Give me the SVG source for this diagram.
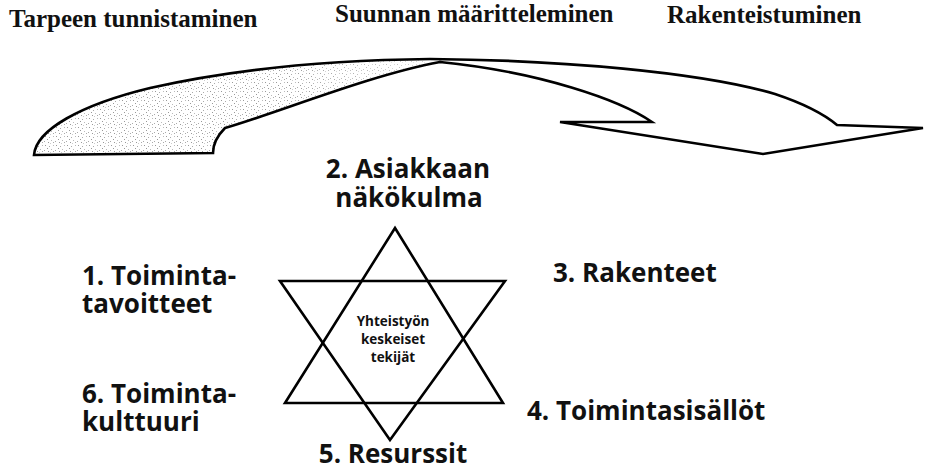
<svg xmlns="http://www.w3.org/2000/svg" width="931" height="470" viewBox="0 0 931 470">
<style>
.hd{font-family:"Liberation Serif","Times New Roman",serif;font-weight:bold;font-size:25px;fill:#111}
.lb{font-family:"Open Sans","Noto Sans",sans-serif;font-weight:bold;font-size:26px;fill:#111}
.ct{font-family:"Open Sans","Noto Sans",sans-serif;font-weight:bold;font-size:13.5px;fill:#111;text-anchor:middle}
.ln{fill:none;stroke:#000;stroke-width:2.6;stroke-linejoin:miter}
</style>
<defs>
<pattern id="dots" width="11" height="9" patternUnits="userSpaceOnUse">
<rect width="11" height="9" fill="#fff"/>
<rect x="1" y="1" width="1" height="1" fill="#999"/>
<rect x="5" y="2" width="1" height="1" fill="#aaa"/>
<rect x="9" y="1" width="1" height="1" fill="#bbb"/>
<rect x="3" y="4" width="1" height="1" fill="#999"/>
<rect x="7" y="5" width="1" height="1" fill="#bbb"/>
<rect x="0" y="6" width="1" height="1" fill="#aaa"/>
<rect x="4" y="7" width="1" height="1" fill="#999"/>
<rect x="9" y="7" width="1" height="1" fill="#aaa"/>
<rect x="6" y="8" width="1" height="1" fill="#ccc"/>
</pattern>
<linearGradient id="fade" gradientUnits="userSpaceOnUse" x1="30" y1="0" x2="425" y2="0">
<stop offset="0" stop-color="#fff"/>
<stop offset="0.65" stop-color="#fff"/>
<stop offset="1" stop-color="#777"/>
</linearGradient>
<mask id="fadeMask"><rect x="0" y="40" width="425" height="130" fill="url(#fade)"/></mask>
<path id="arrowShape" d="M34,155 C36,130 80,105 150,88 C230,70 330,60 430,59 C560,60 700,72 775,94 C805,104 825,115 837,125 L923,128 L763,154 L560,122 L652,122 C620,100 540,72 440,62 C370,75 280,112 225,128 C215,138 213,146 213,153 Z"/>
</defs>
<rect width="931" height="470" fill="#fff"/>

<g id="headers">
<g id="h1"><text class="hd" x="9" y="27">Tarpeen tunnistaminen</text></g>
<g id="h2"><text class="hd" x="335" y="22">Suunnan määritteleminen</text></g>
<g id="h3"><text class="hd" x="667" y="23">Rakenteistuminen</text></g>
</g>

<g id="connectors">
<g id="arrow">
<use href="#arrowShape" fill="#fff"/>
<use href="#arrowShape" fill="url(#dots)" mask="url(#fadeMask)"/>
<use href="#arrowShape" class="ln" stroke-width="2.8"/>
</g>
</g>

<g id="star">
<polygon class="ln" points="395,228 503,403 285,403"/>
<polygon class="ln" points="280,281 505,281 390,440"/>
<text class="ct" x="393" y="326">Yhteistyön<tspan x="393" dy="18">keskeiset</tspan><tspan x="393" dy="18">tekijät</tspan></text>
</g>

<g id="n1"><text class="lb" x="82" y="285">1. Toiminta-<tspan x="82" dy="28">tavoitteet</tspan></text></g>
<g id="n2"><text class="lb" x="408" y="178" text-anchor="middle">2. Asiakkaan<tspan x="409" dy="29">näkökulma</tspan></text></g>
<g id="n3"><text class="lb" x="553" y="282">3. Rakenteet</text></g>
<g id="n4"><text class="lb" x="527" y="420">4. Toimintasisällöt</text></g>
<g id="n5"><text class="lb" x="393" y="463" text-anchor="middle">5. Resurssit</text></g>
<g id="n6"><text class="lb" x="82" y="403">6. Toiminta-<tspan x="82" dy="28">kulttuuri</tspan></text></g>
</svg>
